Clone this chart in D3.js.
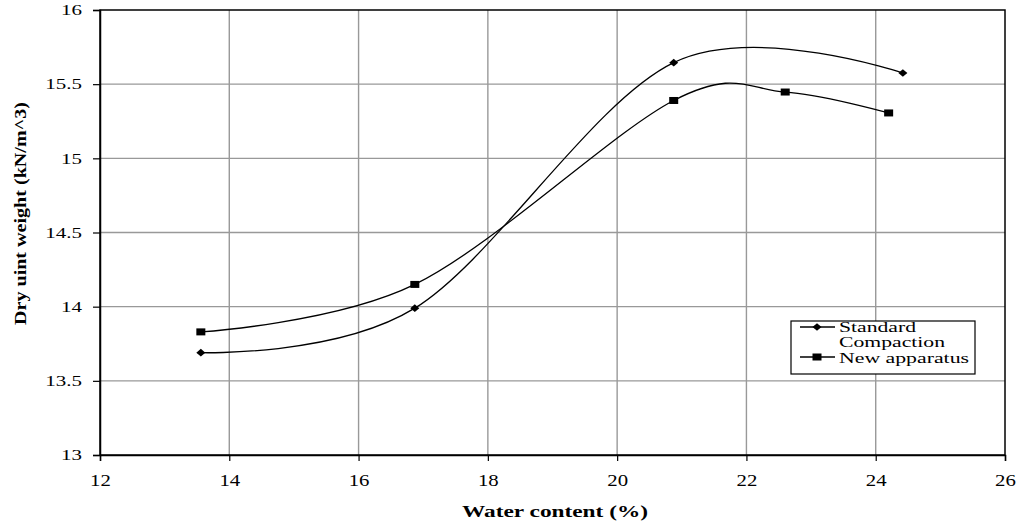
<!DOCTYPE html>
<html>
<head>
<meta charset="utf-8">
<script src="https://cdn.jsdelivr.net/npm/d3@7/dist/d3.min.js"></script>
<style>
body{margin:0;background:#fff;}
</style>
</head>
<body>
<svg id="chart" width="1021" height="526"></svg>
<script>
const xTicks = [12,14,16,18,20,22,24,26];
const yTicks = [13,13.5,14,14.5,15,15.5,16];
const yTickLabels = ["13","13.5","14","14.5","15","15.5","16"];
const standardX = [13.56,16.87,20.875,24.42];
const standardY = [13.69,13.99,15.645,15.575];
const newX = [13.56,16.87,20.875,22.60,24.20];
const newY = [13.83,14.15,15.39,15.447,15.306];
const legendLines = ["Standard","Compaction","New apparatus"];

const SERIF = 'Liberation Serif';
const svg = d3.select("#chart");
const m = {left:100, right:1005, top:10, bottom:455};
const x = d3.scaleLinear().domain([12,26]).range([m.left,m.right]);
const y = d3.scaleLinear().domain([13,16]).range([m.bottom,m.top]);

// gridlines
const g = svg.append("g");
g.selectAll(".vg").data(xTicks.slice(1,-1)).join("line")
  .attr("x1",d=>x(d)).attr("x2",d=>x(d)).attr("y1",m.top).attr("y2",m.bottom)
  .attr("stroke","#999").attr("stroke-width",1.4);
g.selectAll(".hg").data(yTicks.slice(1,-1)).join("line")
  .attr("x1",m.left).attr("x2",m.right).attr("y1",d=>y(d)).attr("y2",d=>y(d))
  .attr("stroke","#999").attr("stroke-width",1.4);

// frame
svg.append("rect").attr("x",m.left).attr("y",m.top).attr("width",m.right-m.left).attr("height",m.bottom-m.top)
  .attr("fill","none").attr("stroke","#000").attr("stroke-width",1.5);

// axes
const xAxis = d3.axisBottom(x).tickValues(xTicks).tickSize(6).tickPadding(14).tickFormat(d3.format("d"));
const xg = svg.append("g").attr("transform",`translate(0,${m.bottom})`).call(xAxis);
const yAxis = d3.axisLeft(y).tickValues(yTicks).tickSize(7).tickPadding(11).tickFormat((d,i)=>yTickLabels[i]);
const yg = svg.append("g").attr("transform",`translate(${m.left},0)`).call(yAxis);
[xg,yg].forEach(a=>{
  a.attr("font-family",SERIF);
  a.select(".domain").attr("stroke","#000").attr("stroke-width",1.5);
  a.selectAll(".tick line").attr("stroke","#000").attr("stroke-width",1.2);
  a.selectAll(".tick text").style("font-family",SERIF).attr("fill","#000");
});
xg.selectAll(".tick text").attr("font-size",16).attr("transform","scale(1.3,1)");
yg.selectAll(".tick text").attr("font-size",15).attr("x",0).attr("transform","translate(-18,0) scale(1.4,1)");

// axis titles
function fitText(sel, w){
  sel.attr("textLength", w).attr("lengthAdjust","spacingAndGlyphs");
}
svg.append("text").attr("x",462).attr("y",517)
  .style("font-family",SERIF).attr("font-weight","bold").attr("font-size",17).text("Water content (%)")
  .call(fitText,186);
svg.append("text").attr("transform",`translate(26,325) rotate(-90)`)
  .style("font-family",SERIF).attr("font-weight","bold").attr("font-size",17).text("Dry uint weight (kN/m^3)")
  .call(fitText,223);

// lines
const line = d3.line().x(d=>x(d[0])).y(d=>y(d[1])).curve(d3.curveCardinal.tension(0));
const stdData = standardX.map((v,i)=>[v,standardY[i]]);
const newData = newX.map((v,i)=>[v,newY[i]]);
svg.append("path").attr("d",line(stdData)).attr("fill","none").attr("stroke","#000").attr("stroke-width",1.3);
svg.append("path").attr("d",line(newData)).attr("fill","none").attr("stroke","#000").attr("stroke-width",1.3);

function diamond(sel,cx,cy){
  sel.append("path").attr("d",`M${cx-4.5},${cy}L${cx},${cy-3.8}L${cx+4.5},${cy}L${cx},${cy+3.8}Z`).attr("fill","#000");
}
function square(sel,cx,cy){
  sel.append("rect").attr("x",cx-4.5).attr("y",cy-3.5).attr("width",9).attr("height",7).attr("fill","#000");
}
stdData.forEach(d=>diamond(svg,x(d[0]),y(d[1])));
newData.forEach(d=>square(svg,x(d[0]),y(d[1])));

// legend
const lg = svg.append("g");
lg.append("rect").attr("x",791).attr("y",321).attr("width",184).attr("height",53)
  .attr("fill","#fff").attr("stroke","#000").attr("stroke-width",1.2);
lg.append("line").attr("x1",800).attr("x2",835).attr("y1",327).attr("y2",327).attr("stroke","#000").attr("stroke-width",1.3);
diamond(lg,817,327);
lg.append("line").attr("x1",800).attr("x2",835).attr("y1",357).attr("y2",357).attr("stroke","#000").attr("stroke-width",1.3);
square(lg,817,357);
const legendBase = [331.5,347,362.5];
const legendWidth = [77,106,130];
legendLines.forEach((t,i)=>{
  lg.append("text").attr("x",839).attr("y",legendBase[i]).style("font-family",SERIF)
    .attr("font-size",14).attr("fill","#000").text(t).call(fitText,legendWidth[i]);
});
</script>
</body>
</html>
